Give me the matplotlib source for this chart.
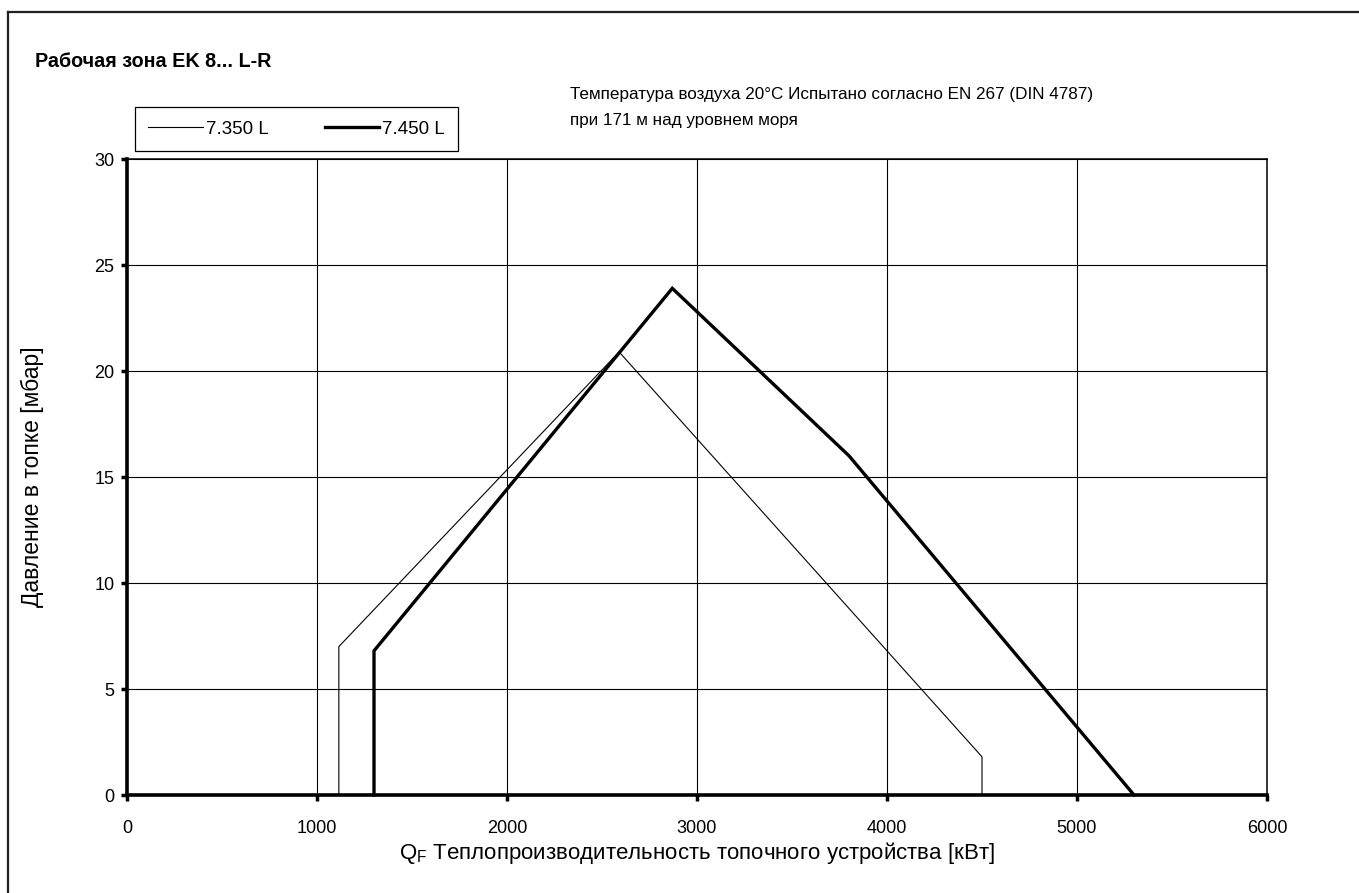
import matplotlib.pyplot as plt
from matplotlib.lines import Line2D

plt.rcParams['font.family'] = ['Liberation Sans', 'DejaVu Sans']
plt.rcParams['mathtext.fontset'] = 'custom'
plt.rcParams['mathtext.rm'] = 'Liberation Sans'

# 7.350 L (thin) and 7.450 L (thick) working fields
thin_x = [1115, 1115, 2590, 4500, 4500]
thin_y = [0, 7.0, 20.9, 1.8, 0]
thick_x = [1300, 1300, 2870, 3800, 5300]
thick_y = [0, 6.8, 23.9, 16.0, 0]

labels = ['7.350 L', '7.450 L']
xticks = [0, 1000, 2000, 3000, 4000, 5000, 6000]
yticks = [0, 5, 10, 15, 20, 25, 30]

W, H = 1359, 893
fig = plt.figure(figsize=(W / 100, H / 100), dpi=100)
ax = fig.add_axes([127 / W, 1 - 795 / H, (1267 - 127) / W, (795 - 159) / H])

ax.plot(thin_x, thin_y, color='black', lw=0.8, label=labels[0], clip_on=False)
ax.plot(thick_x, thick_y, color='black', lw=2.4, label=labels[1],
        solid_joinstyle='miter', clip_on=False)

ax.set_xlim(0, 6000)
ax.set_ylim(0, 30)
ax.set_xticks(xticks)
ax.set_yticks(yticks)
ax.grid(True, color='black', lw=0.8)
ax.set_axisbelow(True)

for s in ['top', 'right']:
    ax.spines[s].set_linewidth(1.1)
for s in ['left', 'bottom']:
    ax.spines[s].set_linewidth(2.6)
    ax.spines[s].set_zorder(5)

ax.tick_params(direction='out', length=4, width=2.5, labelsize=13)
ax.tick_params(axis='x', pad=14)
ax.tick_params(axis='y', pad=5)

ax.set_xlabel('Q$_\\mathregular{F}$ Теплопроизводительность топочного устройства [кВт]',
              fontsize=16, labelpad=2)
ax.set_ylabel('Давление в топке [мбар]', fontsize=16.5, labelpad=36)

fig.text(35 / W, 1 - 67 / H, 'Рабочая зона EK 8... L-R', fontsize=14.2,
         fontweight='bold', va='baseline')
fig.text(570 / W, 1 - 99 / H, 'Температура воздуха 20°C Испытано согласно EN 267 (DIN 4787)',
         fontsize=12.3, va='baseline')
fig.text(570 / W, 1 - 125 / H, 'при 171 м над уровнем моря',
         fontsize=12.3, va='baseline')

leg = fig.legend(loc='center', bbox_to_anchor=(130 / W, 1 - 150 / H, 333 / W, 42 / H),
                 ncol=2, fontsize=13.5, frameon=True, fancybox=False, edgecolor='black',
                 framealpha=1, handlelength=2.9, handletextpad=0.15, columnspacing=3.0,
                 borderaxespad=0, borderpad=0.7)
leg.get_frame().set_linewidth(0.9)

# page frame
fig.add_artist(Line2D([8 / W, 8 / W], [0, 1 - 12 / H], color='#222222', lw=1.6))
fig.add_artist(Line2D([8 / W, 1], [1 - 12 / H, 1 - 12 / H], color='#222222', lw=1.6))

fig.savefig('out.png', dpi=100)
